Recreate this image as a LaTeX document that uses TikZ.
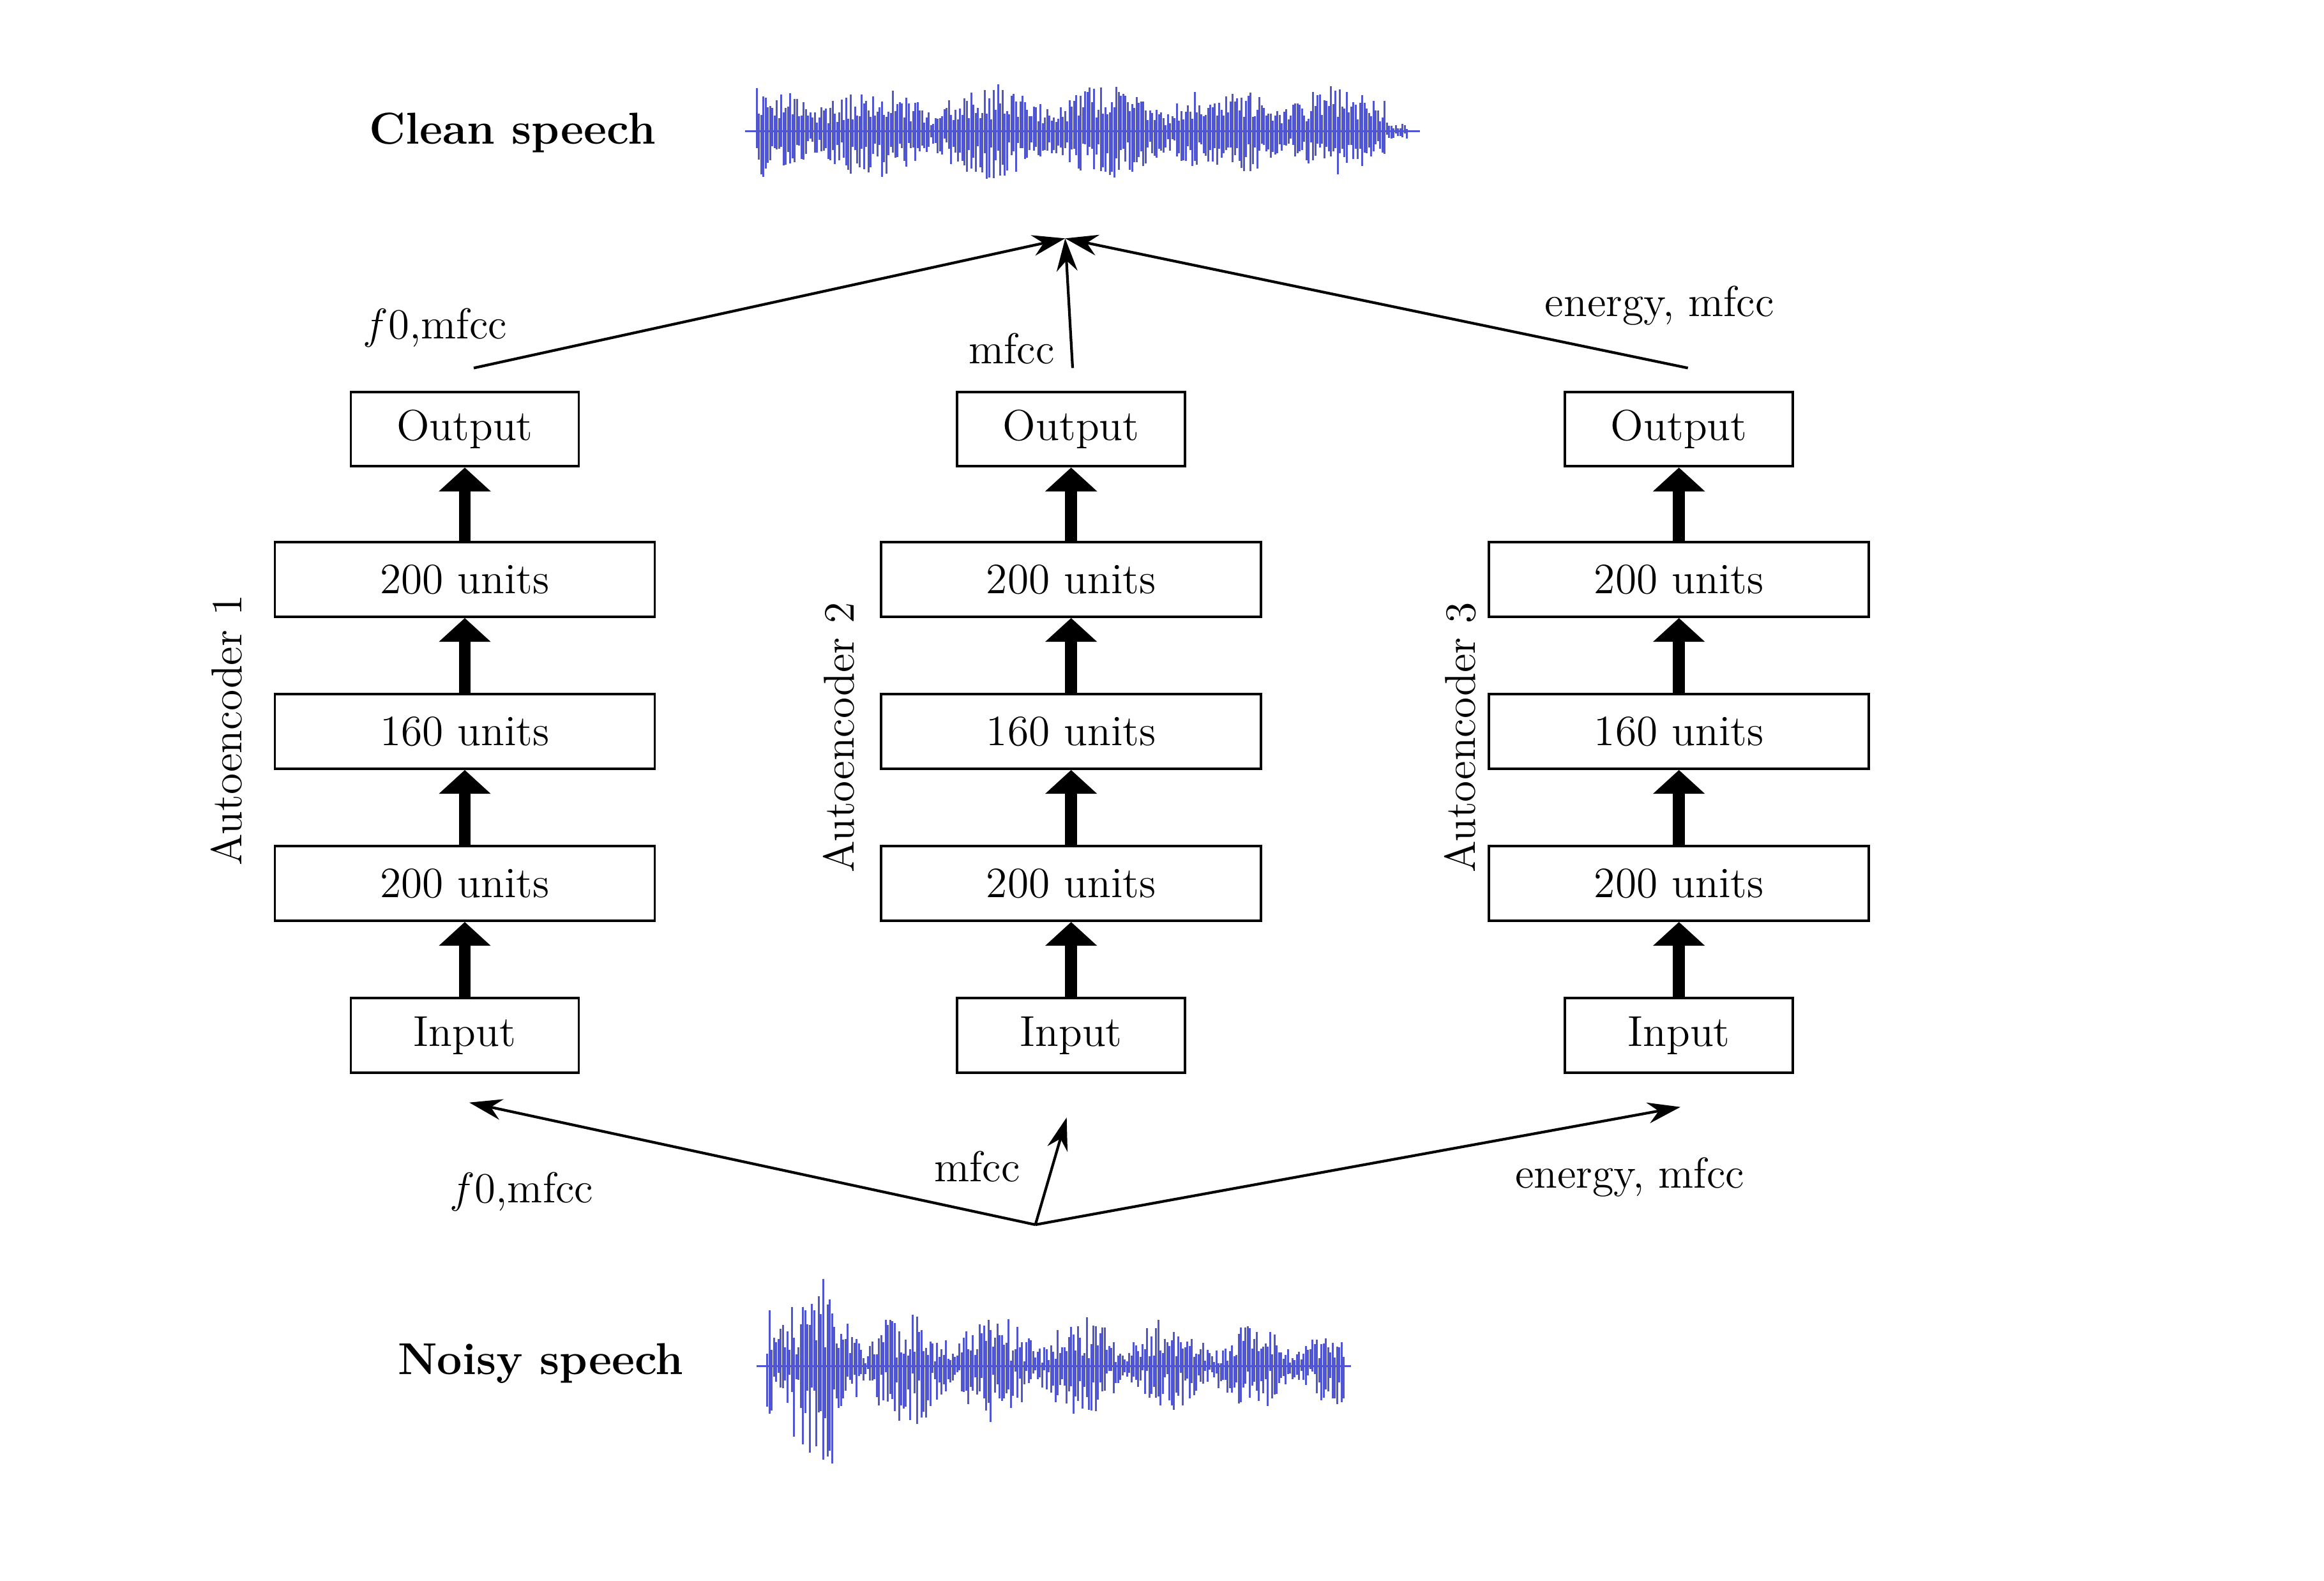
\documentclass[tikz,border=0pt]{standalone}
\usetikzlibrary{arrows.meta}
\begin{document}
\begin{tikzpicture}[x=0.5pt,y=-0.5pt,
  box/.style={draw,line width=0.8pt,minimum height=25pt,inner sep=0pt,font=\fontsize{14.5}{17}\selectfont},
  nar/.style={box,minimum width=76.5pt},
  wid/.style={box,minimum width=127.5pt},
  thick arrow/.style={-{Triangle[length=8pt,width=17pt]},line width=4pt},
  conn/.style={-{Stealth[length=11pt,width=7pt]},line width=0.9pt},
  lab/.style={font=\fontsize{14.5}{17}\selectfont},
  title/.style={font=\fontsize{15}{18}\selectfont\bfseries},
  wave/.style={color={rgb,255:red,80;green,85;blue,210},line width=0.6pt}]
\useasboundingbox (0,0) rectangle (1560,1061);
\foreach \c/\dx/\o/\a/\b/\cc/\d/\e in {1/0/Output/200 units/160 units/200 units/Input/Autoencoder 1,
  2/407/Output/200 units/160 units/200 units/Input/Autoencoder 2,
  3/815/Output/200 units/160 units/200 units/Input/Autoencoder 3}{
  \node[nar] (out\c) at (312+\dx,288) {\o};
  \node[wid] (h3\c) at (312+\dx,389) {\a};
  \node[wid] (h2\c) at (312+\dx,491) {\b};
  \node[wid] (h1\c) at (312+\dx,593) {\cc};
  \node[nar] (in\c) at (312+\dx,695) {\d};
  \draw[thick arrow] (in\c) -- (h1\c);
  \draw[thick arrow] (h1\c) -- (h2\c);
  \draw[thick arrow] (h2\c) -- (h3\c);
  \draw[thick arrow] (h3\c) -- (out\c);
}
\node[lab,rotate=90] (ae1) at (152,490) {Autoencoder 1};
\node[lab,rotate=90] (ae2) at (563,495) {Autoencoder 2};
\node[lab,rotate=90] (ae3) at (980,495) {Autoencoder 3};
% top
\coordinate (t1) at (318,247); \coordinate (t2) at (720,247); \coordinate (t3) at (1133,247);
\coordinate (top) at (715,160);
\draw[conn] (t1) -- (top);
\draw[conn] (t2) -- (top);
\draw[conn] (t3) -- (top);
\node[lab] (l1) at (292,220) {$f0$,mfcc};
\node[lab] (l2) at (679,234) {mfcc};
\node[lab] (l3) at (1114,205) {energy, mfcc};
% bottom
\coordinate (bot) at (695,822);
\coordinate (b1) at (315,740); \coordinate (b2) at (716,750); \coordinate (b3) at (1128,743);
\draw[conn] (bot) -- (b1);
\draw[conn] (bot) -- (b2);
\draw[conn] (bot) -- (b3);
\node[lab] (m1) at (350,800) {$f0$,mfcc};
\node[lab] (m2) at (656,783) {mfcc};
\node[lab] (m3) at (1094,790) {energy, mfcc};
\node[title] (cs) at (344,89) {Clean speech};
\node[title] (ns) at (363,915) {Noisy speech};
% waveforms
\pgfmathsetseed{7}
\draw[wave] (500,88) -- (953,88);
\foreach \x in {508,509.5,...,945}{
  \pgfmathsetmacro\env{(0.45+0.55*abs(sin(\x*2.3)))*(\x<930?1:0.3)}
  \pgfmathsetmacro\u{(8+24*rnd)*\env}
  \pgfmathsetmacro\w{(8+24*rnd)*\env}
  \draw[wave] (\x,88-\u) -- (\x,88+\w);
}
\draw[wave] (508,917) -- (907,917);
\foreach \x in {515,516.5,...,903}{
  \pgfmathsetmacro\env{(\x<560?1.6:1)*(0.3+0.7*abs(sin(\x*3.1)))*(1-0.4*(\x-515)/390)}
  \pgfmathsetmacro\u{(5+40*rnd)*\env}
  \pgfmathsetmacro\w{(5+40*rnd)*\env}
  \draw[wave] (\x,917-\u) -- (\x,917+\w);
}
\end{tikzpicture}
\end{document}
